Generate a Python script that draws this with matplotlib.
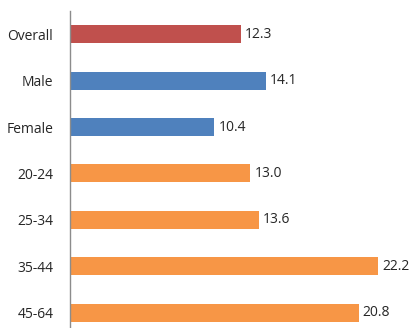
import matplotlib
matplotlib.use('Agg')
import matplotlib.pyplot as plt

# data
categories = ['Overall', 'Male', 'Female', '20-24', '25-34', '35-44', '45-64']
values = [12.3, 14.1, 10.4, 13.0, 13.6, 22.2, 20.8]
colors = ['#C0504D', '#4F81BD', '#4F81BD', '#F79646', '#F79646', '#F79646', '#F79646']

plt.rcParams['font.family'] = ['Open Sans', 'DejaVu Sans']

fig = plt.figure(figsize=(4.14, 3.28), dpi=100)
ax = fig.add_axes([70 / 414, 0, 344 / 414, 317 / 328])

pos = list(range(len(categories)))
ax.barh(pos, values, height=0.39, color=colors)

# value labels
for p, v in zip(pos, values):
    ax.text(v + 0.3, p, f'{v:.1f}', va='center', ha='left', fontsize=10, color='#262626')

ax.set_yticks(pos)
ax.set_yticklabels(categories, fontsize=10, color='#262626')
ax.set_ylim(6.33, -0.5)
ax.set_xlim(0, 24.8)
ax.set_xticks([])
ax.tick_params(axis='y', length=0, pad=12)

for s in ['top', 'right', 'bottom']:
    ax.spines[s].set_visible(False)
ax.spines['left'].set_color('#8C8C8C')
ax.spines['left'].set_linewidth(1)

fig.savefig('out.png', dpi=100)
